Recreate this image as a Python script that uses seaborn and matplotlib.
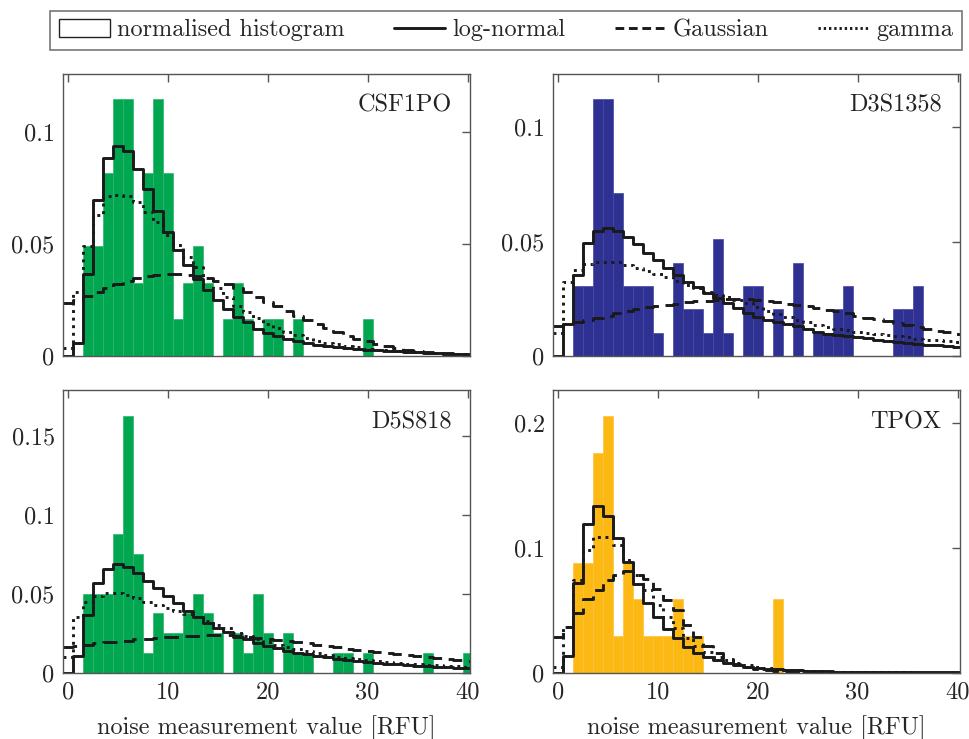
import numpy as np
import pandas as pd
import seaborn as sns
import matplotlib
matplotlib.use("Agg")
import matplotlib.pyplot as plt
from matplotlib.patches import Patch
from matplotlib.lines import Line2D

# ---------------------------------------------------------------------------
# Noise measurement data, one bin per integer RFU value (bins 0 .. 40)
# ---------------------------------------------------------------------------
bin_centres = list(range(41))

csf1po_counts = [0, 0, 3, 3, 5, 7, 7, 2, 5, 7,
                 5, 1, 2, 3, 2, 0, 1, 2, 1, 0,
                 1, 1, 0, 1, 0, 0, 0, 0, 0, 0,
                 1, 0, 0, 0, 0, 0, 0, 0, 0, 0, 0]
csf1po_n = 61
csf1po_lognormal = [0.0, 0.0059, 0.0367, 0.0699, 0.0885, 0.0940, 0.0918, 0.0836, 0.0748, 0.0646,
                    0.0552, 0.0475, 0.0407, 0.0343, 0.0296, 0.0251, 0.0209, 0.0176, 0.0151, 0.0122,
                    0.0104, 0.0089, 0.0076, 0.0066, 0.0058, 0.0051, 0.0045, 0.0040, 0.0036, 0.0032,
                    0.0029, 0.0026, 0.0023, 0.0021, 0.0019, 0.0017, 0.0015, 0.0013, 0.0012, 0.0011, 0.0010]
csf1po_gaussian = [0.0235, 0.0252, 0.0270, 0.0288, 0.0305, 0.0322, 0.0337, 0.0349, 0.0358, 0.0364,
                   0.0367, 0.0367, 0.0364, 0.0357, 0.0348, 0.0335, 0.0320, 0.0303, 0.0284, 0.0264,
                   0.0243, 0.0222, 0.0201, 0.0180, 0.0160, 0.0141, 0.0123, 0.0106, 0.0091, 0.0077,
                   0.0065, 0.0054, 0.0044, 0.0036, 0.0029, 0.0023, 0.0018, 0.0014, 0.0011, 0.0008, 0.0006]
csf1po_gamma = [0.0034, 0.0287, 0.0491, 0.0630, 0.0715, 0.0720, 0.0715, 0.0689, 0.0644, 0.0600,
                0.0540, 0.0496, 0.0443, 0.0399, 0.0347, 0.0302, 0.0262, 0.0225, 0.0195, 0.0168,
                0.0145, 0.0125, 0.0108, 0.0093, 0.0080, 0.0069, 0.0060, 0.0052, 0.0045, 0.0039,
                0.0033, 0.0029, 0.0025, 0.0021, 0.0018, 0.0016, 0.0014, 0.0012, 0.0010, 0.0009, 0.0008]

d3s1358_counts = [0, 0, 3, 3, 11, 11, 7, 3, 3, 3,
                  1, 0, 4, 2, 2, 1, 5, 1, 0, 3,
                  3, 0, 2, 0, 4, 0, 1, 1, 2, 3,
                  0, 0, 0, 0, 2, 2, 3, 0, 0, 0, 0]
d3s1358_n = 98
d3s1358_lognormal = [0.0, 0.0140, 0.0354, 0.0493, 0.0547, 0.0559, 0.0547, 0.0519, 0.0489, 0.0452,
                     0.0420, 0.0384, 0.0354, 0.0325, 0.0300, 0.0274, 0.0252, 0.0231, 0.0209, 0.0188,
                     0.0170, 0.0158, 0.0148, 0.0139, 0.0130, 0.0119, 0.0106, 0.0098, 0.0092, 0.0087,
                     0.0082, 0.0077, 0.0071, 0.0065, 0.0061, 0.0057, 0.0052, 0.0049, 0.0046, 0.0043, 0.0041]
d3s1358_gaussian = [0.0131, 0.0140, 0.0150, 0.0158, 0.0166, 0.0176, 0.0186, 0.0196, 0.0204, 0.0212,
                    0.0218, 0.0223, 0.0229, 0.0234, 0.0239, 0.0242, 0.0245, 0.0247, 0.0248, 0.0247,
                    0.0243, 0.0240, 0.0235, 0.0229, 0.0223, 0.0217, 0.0210, 0.0203, 0.0196, 0.0186,
                    0.0176, 0.0168, 0.0160, 0.0153, 0.0145, 0.0135, 0.0126, 0.0118, 0.0111, 0.0104, 0.0098]
d3s1358_gamma = [0.0099, 0.0325, 0.0376, 0.0402, 0.0413, 0.0413, 0.0410, 0.0398, 0.0384, 0.0373,
                 0.0359, 0.0344, 0.0328, 0.0310, 0.0296, 0.0281, 0.0267, 0.0256, 0.0245, 0.0232,
                 0.0215, 0.0198, 0.0183, 0.0170, 0.0158, 0.0147, 0.0136, 0.0127, 0.0119, 0.0112,
                 0.0106, 0.0101, 0.0096, 0.0091, 0.0087, 0.0082, 0.0076, 0.0072, 0.0068, 0.0065, 0.0062]

d5s818_counts = [0, 0, 4, 4, 4, 7, 13, 6, 1, 3,
                 2, 2, 3, 4, 3, 2, 0, 2, 1, 4,
                 2, 0, 2, 1, 1, 0, 0, 1, 1, 0,
                 1, 0, 0, 0, 0, 0, 1, 0, 0, 0, 1]
d5s818_n = 80
d5s818_lognormal = [0.0, 0.0105, 0.0365, 0.0565, 0.0656, 0.0686, 0.0671, 0.0633, 0.0582, 0.0534,
                    0.0485, 0.0439, 0.0392, 0.0350, 0.0312, 0.0281, 0.0255, 0.0228, 0.0211, 0.0186,
                    0.0169, 0.0154, 0.0139, 0.0127, 0.0116, 0.0105, 0.0097, 0.0089, 0.0080, 0.0074,
                    0.0068, 0.0061, 0.0057, 0.0053, 0.0049, 0.0044, 0.0040, 0.0038, 0.0034, 0.0032, 0.0030]
d5s818_gaussian = [0.0165, 0.0169, 0.0175, 0.0186, 0.0192, 0.0196, 0.0203, 0.0211, 0.0215, 0.0219,
                   0.0224, 0.0228, 0.0232, 0.0234, 0.0236, 0.0236, 0.0236, 0.0232, 0.0228, 0.0222,
                   0.0215, 0.0207, 0.0200, 0.0192, 0.0186, 0.0175, 0.0169, 0.0160, 0.0152, 0.0143,
                   0.0137, 0.0129, 0.0122, 0.0116, 0.0110, 0.0103, 0.0097, 0.0091, 0.0087, 0.0080, 0.0076]
d5s818_gamma = [0.0101, 0.0354, 0.0449, 0.0485, 0.0502, 0.0502, 0.0492, 0.0470, 0.0449, 0.0428,
                0.0411, 0.0390, 0.0369, 0.0350, 0.0329, 0.0302, 0.0281, 0.0253, 0.0232, 0.0211,
                0.0194, 0.0175, 0.0160, 0.0148, 0.0135, 0.0122, 0.0112, 0.0101, 0.0093, 0.0084,
                0.0078, 0.0072, 0.0065, 0.0061, 0.0057, 0.0053, 0.0049, 0.0046, 0.0042, 0.0040, 0.0038]

tpox_counts = [0, 0, 3, 3, 6, 7, 1, 3, 2, 1,
               1, 1, 2, 1, 1, 0, 0, 0, 0, 0,
               0, 0, 2, 0, 0, 0, 0, 0, 0, 0,
               0, 0, 0, 0, 0, 0, 0, 0, 0, 0, 0]
tpox_n = 34
tpox_lognormal = [0.0, 0.0133, 0.0720, 0.1189, 0.1333, 0.1253, 0.1083, 0.0888, 0.0715, 0.0560,
                  0.0443, 0.0347, 0.0275, 0.0208, 0.0160, 0.0128, 0.0101, 0.0080, 0.0061, 0.0048,
                  0.0040, 0.0032, 0.0027, 0.0021, 0.0019, 0.0016, 0.0013, 0.0011, 0.0009, 0.0008,
                  0.0007, 0.0006, 0.0006, 0.0005, 0.0005, 0.0004, 0.0004, 0.0003, 0.0003, 0.0003, 0.0002]
tpox_gaussian = [0.0283, 0.0368, 0.0475, 0.0587, 0.0661, 0.0741, 0.0781, 0.0816, 0.0781, 0.0755,
                 0.0675, 0.0580, 0.0500, 0.0380, 0.0288, 0.0213, 0.0155, 0.0107, 0.0072, 0.0048,
                 0.0030, 0.0019, 0.0011, 0.0007, 0.0004, 0.0002, 0.0001, 0.0001, 0.0, 0.0,
                 0.0, 0.0, 0.0, 0.0, 0.0, 0.0, 0.0, 0.0, 0.0, 0.0, 0.0]
tpox_gamma = [0.0048, 0.0368, 0.0740, 0.0980, 0.1088, 0.1088, 0.1021, 0.0901, 0.0781, 0.0661,
              0.0541, 0.0443, 0.0355, 0.0275, 0.0213, 0.0168, 0.0128, 0.0101, 0.0080, 0.0061,
              0.0048, 0.0037, 0.0029, 0.0024, 0.0019, 0.0016, 0.0012, 0.0009, 0.0008, 0.0006,
              0.0005, 0.0004, 0.0003, 0.0003, 0.0002, 0.0002, 0.0001, 0.0001, 0.0001, 0.0001, 0.0001]

marker_names = ["CSF1PO", "D3S1358", "D5S818", "TPOX"]
bar_colours = ["#00a650", "#2e3192", "#00a650", "#fcb813"]
edge_colours = ["#2fb46a", "#4447a0", "#2fb46a", "#fdc23c"]
y_ticks = [[0, 0.05, 0.1], [0, 0.05, 0.1], [0, 0.05, 0.1, 0.15], [0, 0.1, 0.2]]
y_tick_labels = [["0", "0.05", "0.1"], ["0", "0.05", "0.1"],
                 ["0", "0.05", "0.1", "0.15"], ["0", "0.1", "0.2"]]
x_ticks = [0, 10, 20, 30, 40]
x_tick_labels = ["0", "10", "20", "30", "40"]
x_label = "noise measurement value [RFU]"
legend_labels = ["normalised histogram", "log-normal", "Gaussian", "gamma"]

panels = [
    (csf1po_counts, csf1po_n, csf1po_lognormal, csf1po_gaussian, csf1po_gamma),
    (d3s1358_counts, d3s1358_n, d3s1358_lognormal, d3s1358_gaussian, d3s1358_gamma),
    (d5s818_counts, d5s818_n, d5s818_lognormal, d5s818_gaussian, d5s818_gamma),
    (tpox_counts, tpox_n, tpox_lognormal, tpox_gaussian, tpox_gamma),
]

# ---------------------------------------------------------------------------
# Styling
# ---------------------------------------------------------------------------
sns.set_theme(style="white")
plt.rcParams["font.family"] = ["cmr10", "DejaVu Serif"]
plt.rcParams["axes.formatter.use_mathtext"] = True
plt.rcParams["font.size"] = 17
FS = 17.5
SPINE = "#555555"

fig = plt.figure(figsize=(9.70, 7.39), dpi=100)
left_cols = [63 / 970, 553 / 970]
width = 407 / 970
bottoms = [1 - 356 / 739, 1 - 672.7 / 739]
height = 282.5 / 739

# left edge of every unit bin, plus the right edge of the last one
step_x = np.append(np.asarray(bin_centres, dtype=float) - 0.5, bin_centres[-1] + 0.5)

for i, (counts, n_total, logn, gaus, gamm) in enumerate(panels):
    row, col = divmod(i, 2)
    ax = fig.add_axes([left_cols[col], bottoms[row], width, height])

    heights = np.asarray(counts, dtype=float) / n_total
    hist_df = pd.DataFrame({"value": bin_centres, "density": heights})
    sns.histplot(data=hist_df, x="value", weights="density", discrete=True, ax=ax,
                 color=bar_colours[i], alpha=1.0, edgecolor=edge_colours[i],
                 linewidth=0.5, stat="count", zorder=1)

    # fitted densities drawn as per-bin step curves
    for vals, ls in ((logn, "-"), (gaus, (0, (5.0, 2.6))), (gamm, (0, (1.0, 1.6)))):
        v = np.asarray(vals, dtype=float)
        curve = pd.DataFrame({"x": step_x, "y": np.append(v, v[-1])})
        sns.lineplot(data=curve, x="x", y="y", ax=ax, color="#1a1a1a",
                     linewidth=2.1, linestyle=ls, drawstyle="steps-post",
                     sort=False, estimator=None, zorder=3)

    ax.set_xlim(-0.5, 40.25)
    ax.set_ylim(0, 1.1 * heights.max())
    ax.set_xticks(x_ticks)
    ax.set_yticks(y_ticks[i])
    ax.set_yticklabels(y_tick_labels[i])
    if row == 1:
        ax.set_xticklabels(x_tick_labels)
        ax.set_xlabel(x_label, fontsize=FS, labelpad=9)
    else:
        ax.set_xticklabels([])
        ax.set_xlabel("")
    ax.set_ylabel("")
    ax.tick_params(direction="in", top=True, right=True, length=6, width=1.0,
                   color=SPINE, labelsize=FS, pad=6)
    for sp in ax.spines.values():
        sp.set_color(SPINE)
        sp.set_linewidth(1.0)
        sp.set_zorder(5)
    ax.text(0.955, 0.925, marker_names[i], transform=ax.transAxes,
            ha="right", va="top", fontsize=FS, color="#222222", zorder=6)

handles = [
    Patch(facecolor="white", edgecolor="#222222", linewidth=1.0),
    Line2D([], [], color="#1a1a1a", linewidth=2.1, linestyle="-"),
    Line2D([], [], color="#1a1a1a", linewidth=2.1, linestyle=(0, (3.0, 1.6))),
    Line2D([], [], color="#1a1a1a", linewidth=2.1, linestyle=(0, (0.8, 1.0))),
]
leg = fig.legend(handles, legend_labels, ncol=4, loc="lower left",
                 bbox_to_anchor=(50 / 970, 1 - 50 / 739, 912 / 970, 43 / 739),
                 mode="expand", frameon=True, fancybox=False, fontsize=FS,
                 handlelength=2.1, handleheight=0.75, handletextpad=0.3,
                 borderaxespad=0.0, borderpad=0.35)
leg.get_frame().set_edgecolor(SPINE)
leg.get_frame().set_linewidth(1.2)

fig.savefig("out.png", dpi=100)
